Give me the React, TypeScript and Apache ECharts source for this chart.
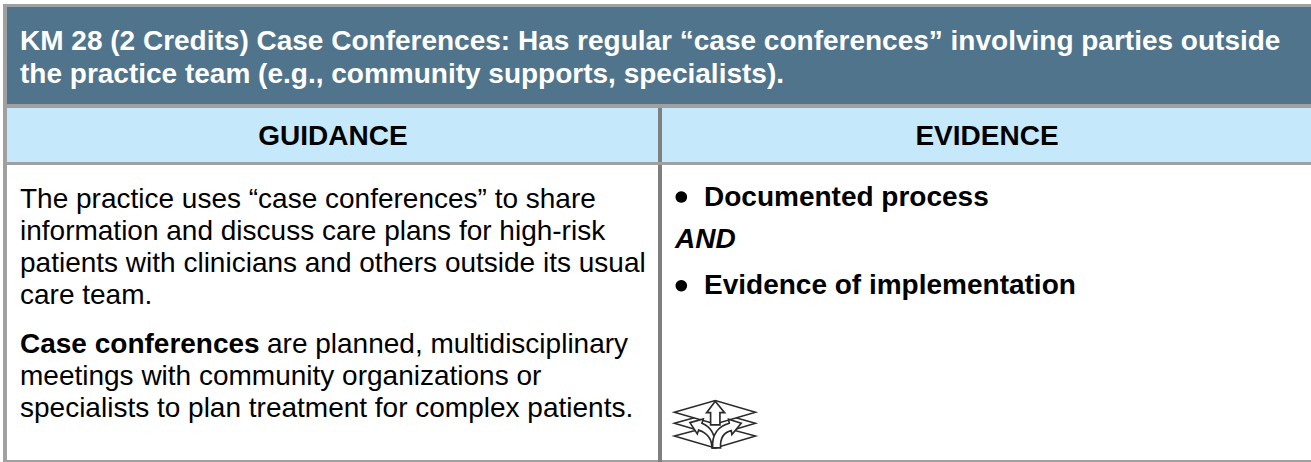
import React, { useEffect, useRef } from "react";
import * as echarts from "echarts";

const titleLines = [
  "KM 28 (2 Credits) Case Conferences: Has regular “case conferences” involving parties outside",
  "the practice team (e.g., community supports, specialists).",
];
const columnHeads = ["GUIDANCE", "EVIDENCE"];
const guidanceA = [
  "The practice uses “case conferences” to share",
  "information and discuss care plans for high-risk",
  "patients with clinicians and others outside its usual",
  "care team.",
];
const guidanceB = [
  "are planned, multidisciplinary",
  "meetings with community organizations or",
  "specialists to plan treatment for complex patients.",
];
const guidanceLead = "Case conferences";
const evidenceItems = ["Documented process", "Evidence of implementation"];
const evidenceJoin = "AND";

const FONT = '"Liberation Sans", Arial, sans-serif';
const DARK = "#2a2a2a";

const arrowPaths = [
  "M226 64 L254 98 L240 98 L240 135 L212 135 L212 98 L200 98 Z",
  "M150 128 L190 117 L186 130 C212 140 225 160 228 204 L216 204 C216 180 205 160 176 150 L172 162 Z",
  "M304 130 L266 118 L268 130 C232 140 216 165 218 204 L242 204 C240 175 250 158 274 152 L276 164 Z",
];
arrowPaths.forEach((d, i) => {
  echarts.graphic.registerShape("arrowPart" + i, echarts.graphic.extendPath(d, {}) as any);
});

const t = (text: string, x: number, y: number, size: number, fill: string, weight = "normal", align = "left", italic = false) => ({
  type: "text",
  x,
  y,
  silent: true,
  style: {
    text,
    fill,
    font: `${italic ? "italic " : ""}${weight} ${size}px ${FONT}`,
    textAlign: align,
    textVerticalAlign: "middle",
  },
});
const r = (x: number, y: number, width: number, height: number, fill: string) => ({
  type: "rect",
  shape: { x, y, width, height },
  silent: true,
  style: { fill },
});

const diamond = (top: number, mid: number, bottom: number) => ({
  type: "polygon",
  shape: { points: [[103, mid], [226, top], [347, mid], [226, bottom]] },
  silent: true,
  style: { fill: "#fff", stroke: DARK, lineWidth: 4.5 },
});
const arrowPart = (kind: number) => ({
  type: "arrowPart" + kind,
  silent: true,
  style: { fill: "#fff", stroke: DARK, lineWidth: 5 },
});

export default function App() {
  const ref = useRef<HTMLDivElement>(null);
  useEffect(() => {
    const chart = echarts.init(ref.current!, undefined, { renderer: "svg" });
    const elements: any[] = [
      r(0, 0, 1311, 462, "#ffffff"),
      r(7, 7, 1304, 97, "#4f748b"),
      r(7, 108, 1304, 54, "#c5e8fb"),
      r(3, 4, 1308, 3, "#a0a0a0"),
      r(3, 4, 4, 458, "#a0a0a0"),
      r(3, 104, 1308, 4, "#a0a0a0"),
      r(3, 162, 1308, 3, "#a0a0a0"),
      r(3, 460, 1308, 2, "#a0a0a0"),
      r(658, 108, 4, 54, "#7f7f7f"),
      r(658, 165, 4, 297, "#7f7f7f"),
    ];
    const SIZE = 28;
    const titleY = [40.3, 73];
    titleLines.forEach((s, i) => elements.push(t(s, 20, titleY[i], SIZE, "#ffffff", "bold")));
    elements.push(t(columnHeads[0], 333, 135.3, SIZE, "#000000", "bold", "center"));
    elements.push(t(columnHeads[1], 987, 135.3, SIZE, "#000000", "bold", "center"));
    const aY = [198, 230.3, 262.5, 294.7];
    guidanceA.forEach((s, i) => elements.push(t(s, 20, aY[i], SIZE, "#000000")));
    const bY = [343, 375.3, 407.5];
    elements.push(t(guidanceLead, 20, bY[0], SIZE, "#000000", "bold"));
    guidanceB.forEach((s, i) => elements.push(t(s, i === 0 ? 267 : 20, bY[i], SIZE, "#000000")));
    const evY = [196, 284.6];
    const bulletY = [197, 285.7];
    evidenceItems.forEach((s, i) => {
      elements.push({ type: "circle", shape: { cx: 681.3, cy: bulletY[i], r: 5.8 }, silent: true, style: { fill: "#000" } });
      elements.push(t(s, 704, evY[i], SIZE, "#000000", "bold"));
    });
    elements.push(t(evidenceJoin, 675, 238.3, SIZE, "#000000", "bold", "left", true));
    elements.push({
      type: "group",
      x: 640,
      y: 380,
      scaleX: 1 / 3,
      scaleY: 1 / 3,
      silent: true,
      children: [
        diamond(136, 168, 204),
        diamond(96, 130, 166),
        diamond(62, 97, 132),
        arrowPart(0),
        arrowPart(1),
        arrowPart(2),
      ],
    });
    chart.setOption({
      animation: false,
      backgroundColor: "#ffffff",
      graphic: { elements },
    });
    return () => chart.dispose();
  }, []);
  return <div ref={ref} style={{ position: "fixed", left: 0, top: 0, width: 1311, height: 462 }} />;
}
